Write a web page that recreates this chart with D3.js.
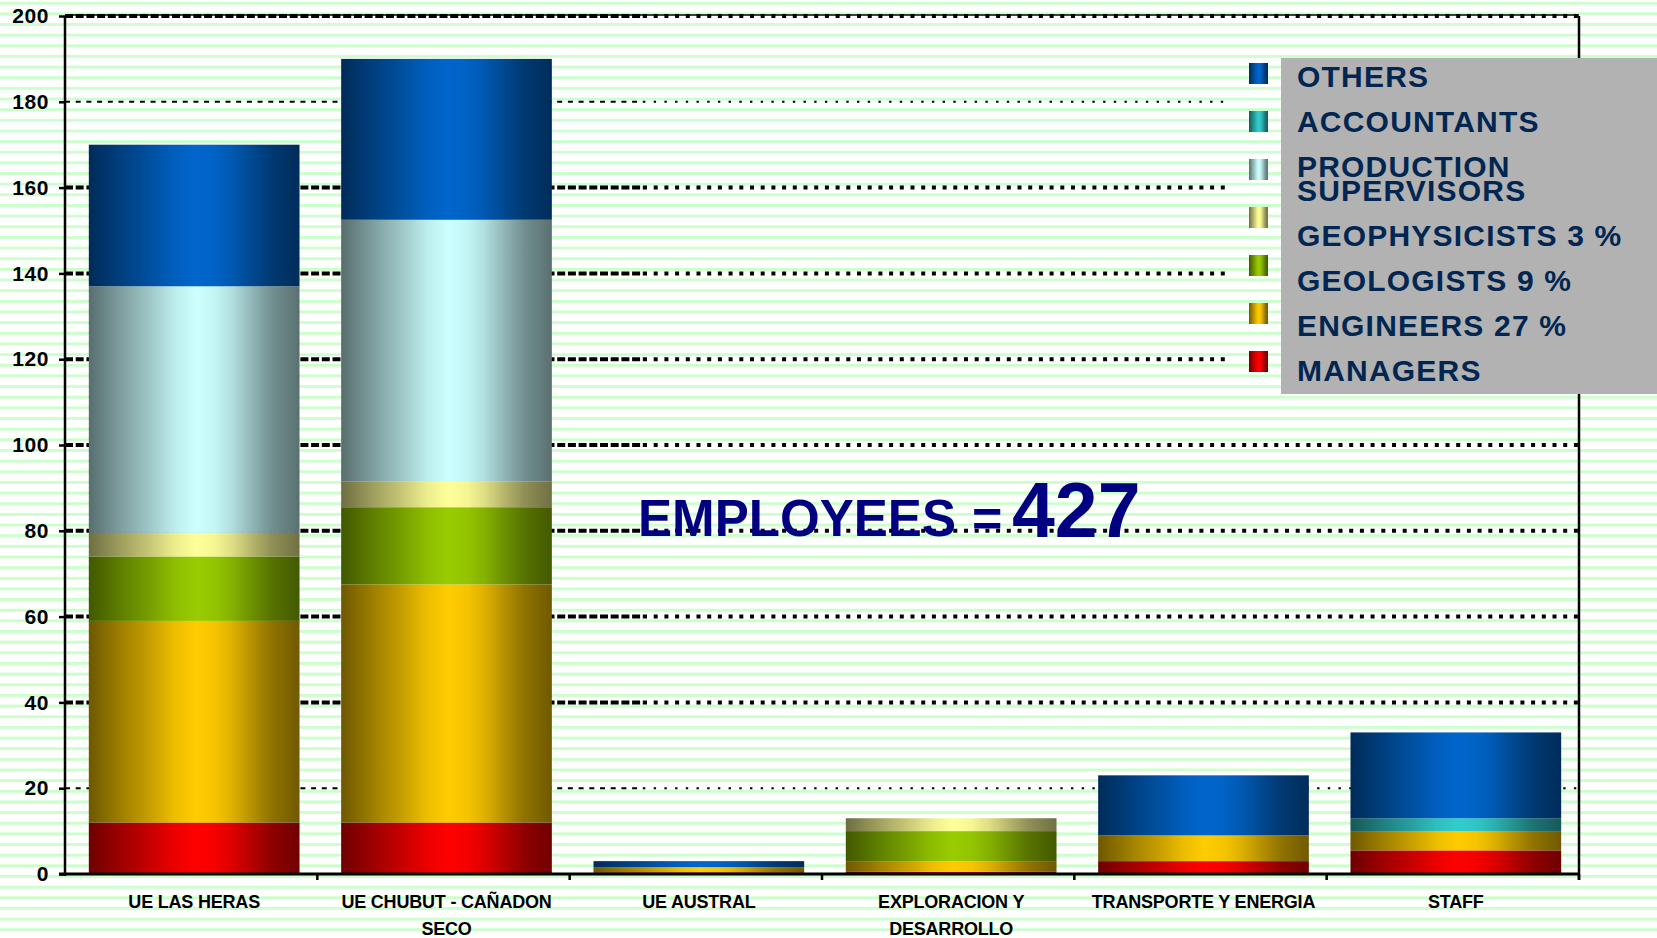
<!DOCTYPE html>
<html>
<head>
<meta charset="utf-8">
<script src="https://cdn.jsdelivr.net/npm/d3@7"></script>
<style>
  html, body { margin: 0; padding: 0; background: #fff; }
  svg { display: block; }
</style>
</head>
<body>
<svg id="chart" width="1657" height="938"></svg>
<script>
// ---- data ----
const categories = [
  "UE LAS HERAS",
  "UE CHUBUT - CAÑADON SECO",
  "UE AUSTRAL",
  "EXPLORACION Y DESARROLLO",
  "TRANSPORTE Y ENERGIA",
  "STAFF"
];

// stacked from the bottom up
const seriesKeys = ["managers", "engineers", "geologists", "geophysicists",
                    "productionSupervisors", "accountants", "others"];

const managers              = [12,   12,   0.4, 0.5, 3,  5.5];
const engineers             = [47,   55.5, 1.2, 2.5, 6,  4.5];
const geologists            = [15,   18,   0,   7,   0,  0];
const geophysicists         = [5.5,  6,    0,   3,   0,  0];
const productionSupervisors = [57.5, 61,   0,   0,   0,  0];
const accountants           = [0,    0,    0,   0,   0,  3];
const others                = [33,   37.5, 1.4, 0,   14, 20];

const seriesColors = ["#ff0000", "#ffcc00", "#99cc00", "#ffff99",
                      "#ccffff", "#33cccc", "#0066cc"];

const legendLabels = [
  ["MANAGERS"],
  ["ENGINEERS 27 %"],
  ["GEOLOGISTS 9 %"],
  ["GEOPHYSICISTS 3 %"],
  ["PRODUCTION", "SUPERVISORS"],
  ["ACCOUNTANTS"],
  ["OTHERS"]
];

const yTicks = [0, 20, 40, 60, 80, 100, 120, 140, 160, 180, 200];
const thinGridValues = [20, 180];

const totalText = "EMPLOYEES =";
const totalEmployees = 427;

// ---- layout ----
const W = 1657, H = 938;
const plot = { left: 65, right: 1579, top: 16, bottom: 874 };
const dashBreakX = 643;
const barShift = 3;
const FONT = "Arial, 'Liberation Sans', Helvetica, sans-serif";

const seriesValues = { managers, engineers, geologists, geophysicists,
                       productionSupervisors, accountants, others };
const table = categories.map((c, i) => {
  const row = { category: c };
  seriesKeys.forEach(k => { row[k] = seriesValues[k][i]; });
  return row;
});

const svg = d3.select("#chart");
const defs = svg.append("defs");

// striped paper background
const stripe = defs.append("pattern")
  .attr("id", "stripes")
  .attr("patternUnits", "userSpaceOnUse")
  .attr("x", 0).attr("y", 1.7)
  .attr("width", 40).attr("height", 10.65);
stripe.append("rect").attr("width", 40).attr("height", 10.65).attr("fill", "#ffffff");
stripe.append("rect").attr("width", 40).attr("height", 2.9).attr("fill", "#ccffcc");

// horizontal cylinder-like shading per series
const shadeProfile = [[0, 0.43], [0.16, 0.63], [0.29, 0.78], [0.41, 0.93], [0.51, 1],
                      [0.6, 0.96], [0.68, 0.87], [0.78, 0.7], [0.87, 0.56], [1, 0.44]];
seriesKeys.forEach((k, i) => {
  const base = d3.rgb(seriesColors[i]);
  const g = defs.append("linearGradient")
    .attr("id", "grad-" + k)
    .attr("x1", "0%").attr("x2", "100%").attr("y1", "0%").attr("y2", "0%");
  shadeProfile.forEach(([off, f]) => {
    g.append("stop")
      .attr("offset", (off * 100) + "%")
      .attr("stop-color", d3.rgb(base.r * f, base.g * f, base.b * f).formatHex());
  });
});

svg.append("rect").attr("width", W).attr("height", H).attr("fill", "url(#stripes)");

// ---- scales ----
const x = d3.scaleBand()
  .domain(categories)
  .range([plot.left, plot.right])
  .paddingInner(0.165)
  .paddingOuter(0.0825);

const y = d3.scaleLinear()
  .domain([0, 200])
  .range([plot.bottom, plot.top]);

// ---- grid lines ----
const grid = svg.append("g").attr("class", "grid");
yTicks.filter(t => t > 0).forEach(t => {
  const thin = thinGridValues.includes(t);
  const sw = thin ? 2 : 4;
  grid.append("line")
    .attr("x1", plot.left).attr("x2", dashBreakX)
    .attr("y1", y(t)).attr("y2", y(t))
    .attr("stroke", "#000").attr("stroke-width", sw)
    .attr("stroke-dasharray", thin ? "5 5.7" : "8 2.7");
  grid.append("line")
    .attr("x1", dashBreakX).attr("x2", plot.right)
    .attr("y1", y(t)).attr("y2", y(t))
    .attr("stroke", "#000").attr("stroke-width", sw)
    .attr("stroke-dasharray", thin ? "2.4 8.3" : "4 6.7");
});
// plot frame: top and right edges
svg.append("line")
  .attr("x1", plot.left).attr("x2", plot.right)
  .attr("y1", y(200) - 1).attr("y2", y(200) - 1)
  .attr("stroke", "#000").attr("stroke-width", 1.5);
svg.append("line")
  .attr("x1", plot.right).attr("x2", plot.right)
  .attr("y1", plot.top).attr("y2", plot.bottom + 6)
  .attr("stroke", "#000").attr("stroke-width", 2.5);

// ---- stacked bars ----
const stacked = d3.stack().keys(seriesKeys)(table);
const barsG = svg.append("g").attr("class", "bars");
stacked.forEach(layer => {
  barsG.append("g")
    .attr("fill", "url(#grad-" + layer.key + ")")
    .selectAll("rect")
    .data(layer.filter(d => d[1] - d[0] > 0))
    .join("rect")
      .attr("x", d => x(d.data.category) + barShift)
      .attr("y", d => y(d[1]))
      .attr("width", x.bandwidth())
      .attr("height", d => y(d[0]) - y(d[1]));
});

// ---- axes ----
const yAxis = svg.append("g")
  .attr("transform", `translate(${plot.left},0)`)
  .call(d3.axisLeft(y).tickValues(yTicks).tickSize(6).tickPadding(10).tickFormat(d3.format("d")));
yAxis.select(".domain").remove();
yAxis.selectAll(".tick line").attr("stroke", "#000").attr("stroke-width", 2.5);
yAxis.selectAll(".tick text")
  .attr("font-family", FONT).attr("font-weight", "bold")
  .attr("font-size", 21).attr("letter-spacing", 0.6).attr("fill", "#000");

svg.append("line")
  .attr("x1", plot.left).attr("x2", plot.left)
  .attr("y1", plot.top).attr("y2", plot.bottom + 2)
  .attr("stroke", "#000").attr("stroke-width", 2.5);
svg.append("line")
  .attr("x1", plot.left - 6).attr("x2", plot.right + 1)
  .attr("y1", plot.bottom).attr("y2", plot.bottom)
  .attr("stroke", "#000").attr("stroke-width", 3);

// category boundary ticks below the axis
const boundaries = d3.range(1, categories.length + 1).map(i => plot.left + i * x.step());
svg.append("g").selectAll("line")
  .data(boundaries)
  .join("line")
    .attr("x1", d => d).attr("x2", d => d)
    .attr("y1", plot.bottom).attr("y2", plot.bottom + 6)
    .attr("stroke", "#000").attr("stroke-width", 2.5);

// category labels, wrapped to the band width
const catLabels = svg.append("g").selectAll("text")
  .data(categories)
  .join("text")
    .attr("x", d => x(d) + x.bandwidth() / 2 + barShift)
    .attr("y", 908)
    .attr("text-anchor", "middle")
    .attr("font-family", FONT).attr("font-weight", "bold")
    .attr("font-size", 18).attr("letter-spacing", -0.2)
    .attr("fill", "#000");

catLabels.each(function (d) {
  const text = d3.select(this);
  const words = d.split(/\s+/);
  const cx = +text.attr("x");
  let line = [];
  let tspan = text.append("tspan").attr("x", cx).attr("dy", 0);
  words.forEach(w => {
    line.push(w);
    tspan.text(line.join(" "));
    if (tspan.node().getComputedTextLength() > 238 && line.length > 1) {
      line.pop();
      tspan.text(line.join(" "));
      line = [w];
      tspan = text.append("tspan").attr("x", cx).attr("dy", 27).text(w);
    }
  });
});

// ---- total annotation ----
svg.append("text")
  .attr("x", 638).attr("y", 536)
  .attr("font-family", FONT).attr("font-weight", "bold")
  .attr("font-size", 52).attr("fill", "#000080")
  .attr("textLength", 318).attr("lengthAdjust", "spacingAndGlyphs")
  .text(totalText.split(" ")[0]);
svg.append("text")
  .attr("x", 972).attr("y", 536)
  .attr("font-family", FONT).attr("font-weight", "bold")
  .attr("font-size", 52).attr("fill", "#000080")
  .text(totalText.split(" ")[1]);
svg.append("text")
  .attr("x", 1012).attr("y", 537)
  .attr("font-family", FONT).attr("font-weight", "bold")
  .attr("font-size", 77).attr("fill", "#000080")
  .text(totalEmployees);

// ---- legend ----
const legend = svg.append("g").attr("class", "legend");
legend.append("rect")
  .attr("x", 1231).attr("y", 40).attr("width", 60).attr("height", 360)
  .attr("fill", "url(#stripes)");
legend.append("rect")
  .attr("x", 1281).attr("y", 58).attr("width", W - 1281).attr("height", 336)
  .attr("fill", "#b2b2b2");

const legendOrder = seriesKeys.map((k, i) => ({ key: k, label: legendLabels[i] })).reverse();
legendOrder.forEach((item, i) => {
  legend.append("rect")
    .attr("x", 1249).attr("y", 63 + i * 48)
    .attr("width", 19).attr("height", 21)
    .attr("fill", "url(#grad-" + item.key + ")");
});

let baseline = 87;
legendOrder.forEach(item => {
  item.label.forEach((ln, j) => {
    legend.append("text")
      .attr("x", 1297).attr("y", baseline + j * 24.3)
      .attr("font-family", FONT).attr("font-weight", "bold")
      .attr("font-size", 30).attr("letter-spacing", 1.2)
      .attr("fill", "#002651")
      .text(ln);
  });
  baseline += 45 + (item.label.length - 1) * 24.3;
});
</script>
</body>
</html>
